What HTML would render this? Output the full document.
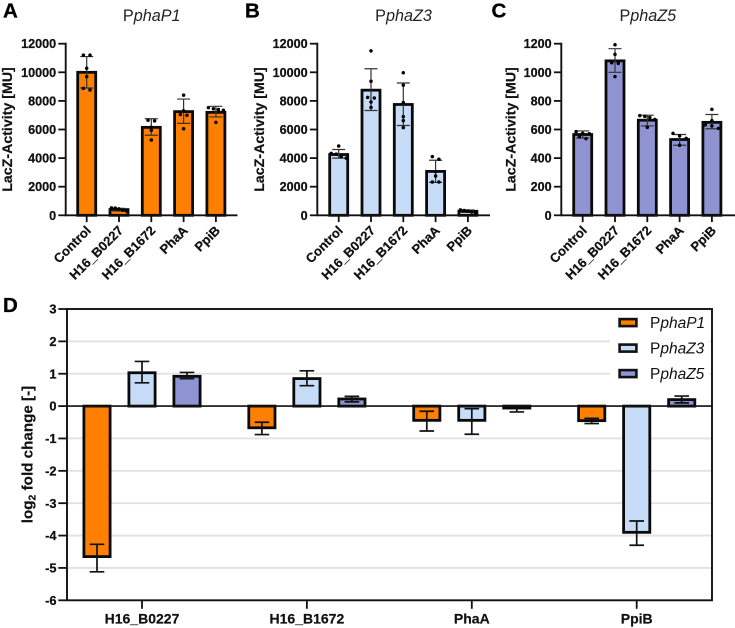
<!DOCTYPE html>
<html lang="en">
<head>
<meta charset="utf-8">
<title>LacZ activity charts</title>
<style>
html,body{margin:0;padding:0;background:#fff;}
svg{display:block;font-family:"Liberation Sans",sans-serif;}
</style>
</head>
<body>
<svg id="chart" xmlns="http://www.w3.org/2000/svg" width="735" height="628" viewBox="0 0 735 628">
  <text x="3" y="17.5" font-size="20.5" font-weight="bold" fill="#000" stroke="#000" stroke-width="0.3">A</text>
  <text x="245" y="17.5" font-size="20.5" font-weight="bold" fill="#000" stroke="#000" stroke-width="0.3">B</text>
  <text x="491.5" y="17.5" font-size="20.5" font-weight="bold" fill="#000" stroke="#000" stroke-width="0.3">C</text>
  <text x="3" y="312" font-size="20.5" font-weight="bold" fill="#000" stroke="#000" stroke-width="0.3">D</text>
  <text x="151.7" y="21" font-size="16.2" text-anchor="middle" fill="#222">P<tspan font-style="italic">phaP1</tspan></text>
  <text x="403.5" y="21" font-size="16.2" text-anchor="middle" fill="#222">P<tspan font-style="italic">phaZ3</tspan></text>
  <text x="647.8" y="21" font-size="16.2" text-anchor="middle" fill="#222">P<tspan font-style="italic">phaZ5</tspan></text>
  <text transform="translate(12,129.5) rotate(-90)" font-size="14.2" font-weight="bold" text-anchor="middle" fill="#111" stroke="#111" stroke-width="0.2">LacZ-Activity [MU]</text>
  <text transform="translate(264,129.5) rotate(-90)" font-size="14.2" font-weight="bold" text-anchor="middle" fill="#111" stroke="#111" stroke-width="0.2">LacZ-Activity [MU]</text>
  <text transform="translate(515.5,129.5) rotate(-90)" font-size="14.2" font-weight="bold" text-anchor="middle" fill="#111" stroke="#111" stroke-width="0.2">LacZ-Activity [MU]</text>
  <text transform="translate(32.5,454.5) rotate(-90)" font-size="15.2" font-weight="bold" text-anchor="middle" fill="#111" stroke="#111" stroke-width="0.2">log<tspan font-size="10.5" dy="3">2</tspan><tspan dy="-3"> fold change [-]</tspan></text>
  <g id="panels"></g>
  <g id="panel-d"></g>
</svg>
<script>
// Panels A-C: shared categories
const categories = ['Control', 'H16_B0227', 'H16_B1672', 'PhaA', 'PpiB'];

// Panel A (PphaP1)
const ticksA = [0, 2000, 4000, 6000, 8000, 10000, 12000];
const meansA = [10000, 400, 6150, 7250, 7200];
const errLowA = [8900, 300, 5600, 6430, 6880];
const errHighA = [11100, 490, 6750, 8130, 7620];
const pointsA = [
  [11200, 11200, 10280, 9700, 8880, 8760],
  [520, 500, 450, 350, 300],
  [6650, 6600, 6150, 5950, 5270],
  [8400, 7300, 7050, 7000, 6050],
  [7530, 7450, 7400, 7350, 6500]
];

// Panel B (PphaZ3)
const ticksB = [0, 2000, 4000, 6000, 8000, 10000, 12000];
const meansB = [4250, 8750, 7750, 3070, 280];
const errLowB = [4000, 7330, 6280, 2300, 200];
const errHighB = [4600, 10250, 9250, 3850, 370];
const pointsB = [
  [4850, 4330, 4280, 4100, 4000],
  [11500, 9370, 8250, 8200, 7920, 7550],
  [9970, 9100, 7880, 6900, 6620, 6130],
  [4100, 3920, 3050, 2750, 2330, 2330],
  [380, 340, 300, 230, 180]
];

// Panel C (PphaZ5)
const ticksC = [0, 200, 400, 600, 800, 1000, 1200];
const meansC = [565, 1080, 665, 530, 650];
const errLowC = [540, 1000, 625, 490, 605];
const errHighC = [590, 1165, 700, 565, 705];
const pointsC = [
  [585, 573, 570, 550, 536],
  [1193, 1125, 1067, 1062, 970],
  [697, 692, 685, 670, 615],
  [573, 555, 538, 490],
  [741, 662, 632, 625, 608]
];

// Panel D (log2 fold change)
const groupsD = ['H16_B0227', 'H16_B1672', 'PhaA', 'PpiB'];
const seriesD = ['phaP1', 'phaZ3', 'phaZ5'];
const ticksD = [3, 2, 1, 0, -1, -2, -3, -4, -5, -6];
const valuesP1 = [-4.65, -0.67, -0.44, -0.45];
const errLowP1 = [-5.12, -0.88, -0.77, -0.54];
const errHighP1 = [-4.27, -0.5, -0.16, -0.38];
const valuesZ3 = [1.03, 0.85, -0.44, -3.9];
const errLowZ3 = [0.72, 0.63, -0.87, -4.3];
const errHighZ3 = [1.38, 1.09, -0.08, -3.55];
const valuesZ5 = [0.92, 0.22, -0.06, 0.2];
const errLowZ5 = [0.85, 0.13, -0.18, 0.1];
const errHighZ5 = [1.04, 0.3, 0, 0.31];

const SVGNS = 'http://www.w3.org/2000/svg';
const INK = '#111';
const ORANGE = '#ff8000';
const BLUE = '#c6dcf7';
const PURPLE = '#8f93d2';

function mk(parent, tag, attrs, text) {
  const node = document.createElementNS(SVGNS, tag);
  for (const k in attrs) node.setAttribute(k, attrs[k]);
  if (text !== undefined) node.textContent = text;
  parent.appendChild(node);
  return node;
}

function swarm(values, scale) {
  // groups points that would overlap vertically and spreads each group symmetrically,
  // keeping any group within the bar width
  const sorted = values.slice().sort((a, b) => b - a);
  const result = [];
  let group = [];
  const flush = () => {
    const gap = group.length > 1 ? Math.min(6.6, 15 / (group.length - 1)) : 0;
    group.forEach((v, i) => result.push({ v: v, dx: (i - (group.length - 1) / 2) * gap }));
    group = [];
  };
  sorted.forEach((v) => {
    if (group.length && scale(v) - scale(group[group.length - 1]) > 2.8) flush();
    group.push(v);
  });
  flush();
  return result;
}

function drawBarPanel(cfg) {
  const root = document.getElementById('panels');
  const g = mk(root, 'g', {});
  
  

  const top = 43.7, base = 215.3;
  const maxTick = cfg.ticks[cfg.ticks.length - 1];
  const yScale = (v) => base - (v / maxTick) * (base - top);
  const xScale = (i) => cfg.x0 + i * 32.3;

  cfg.means.forEach((m, i) => {
    const cx = xScale(i);
    const bar = mk(g, 'rect', {
      x: cx - 9, y: yScale(m), width: 18, height: base - yScale(m),
      fill: cfg.color, stroke: '#0a0a0a', 'stroke-width': 2.8
    });
    
    

    const err = mk(g, 'path', {
      d: 'M' + cx + ' ' + yScale(cfg.low[i]) + 'V' + yScale(cfg.high[i]) +
         'M' + (cx - 6.5) + ' ' + yScale(cfg.low[i]) + 'h13' +
         'M' + (cx - 6.5) + ' ' + yScale(cfg.high[i]) + 'h13',
      fill: 'none', stroke: '#333', 'stroke-width': 1.2
    });
    
    

    swarm(cfg.points[i], yScale).forEach((p) => {
      const dot = mk(g, 'circle', { cx: cx + p.dx, cy: yScale(p.v), r: 1.75, fill: '#000' });
      
      
    });
  });

  const yAxis = mk(g, 'line', { x1: cfg.axisX, x2: cfg.axisX, y1: top - 1, y2: base + 1, stroke: INK, 'stroke-width': 1.9 });
  
  
  const xAxis = mk(g, 'line', { x1: cfg.axisX, x2: cfg.axisEnd, y1: base, y2: base, stroke: INK, 'stroke-width': 1.9 });
  
  

  cfg.ticks.forEach((t) => {
    const y = yScale(t);
    const tick = mk(g, 'line', { x1: cfg.axisX - 7.4, x2: cfg.axisX, y1: y, y2: y, stroke: INK, 'stroke-width': 1.8 });
    
    
    const label = mk(g, 'text', {
      x: cfg.axisX - 9.6, y: y + 4.5, 'font-size': 12.6, 'font-weight': 'bold', 'text-anchor': 'end', fill: INK, stroke: INK, 'stroke-width': 0.25
    }, String(t));
    
    
  });

  categories.forEach((c, i) => {
    const cx = xScale(i);
    const tick = mk(g, 'line', { x1: cx, x2: cx, y1: base, y2: base + 6.8, stroke: INK, 'stroke-width': 1.8 });
    
    
    const label = mk(g, 'text', {
      transform: 'translate(' + (cx + 5) + ',' + (base + 16) + ') rotate(-45)',
      'font-size': 13, 'font-weight': 'bold', 'text-anchor': 'end', fill: INK, stroke: INK, 'stroke-width': 0.25
    }, c);
    
    
  });
}

drawBarPanel({ id: 'a', ticks: ticksA, means: meansA, low: errLowA, high: errHighA, points: pointsA, color: ORANGE, x0: 86.7, axisX: 65.7, axisEnd: 237.5 });
drawBarPanel({ id: 'b', ticks: ticksB, means: meansB, low: errLowB, high: errHighB, points: pointsB, color: BLUE, x0: 338.7, axisX: 317.3, axisEnd: 490 });
drawBarPanel({ id: 'c', ticks: ticksC, means: meansC, low: errLowC, high: errHighC, points: pointsC, color: PURPLE, x0: 582.7, axisX: 561.3, axisEnd: 735 });

function drawFoldPanel() {
  const g = document.getElementById('panel-d');
  const left = 67, right = 712, top = 309, bottom = 600.3;
  const yScale = (v) => top + ((3 - v) / 9) * (bottom - top);
  const xGroup = (i) => 142 + i * 164.9;
  const offset = (s) => (s - 1) * 45;
  const colors = [ORANGE, BLUE, PURPLE];
  const seriesValues = [valuesP1, valuesZ3, valuesZ5];
  const seriesLow = [errLowP1, errLowZ3, errLowZ5];
  const seriesHigh = [errHighP1, errHighZ3, errHighZ5];

  ticksD.forEach((t) => {
    if (t === 3 || t === 0 || t === -6) return;
    const grid = mk(g, 'line', { x1: left, x2: right, y1: yScale(t), y2: yScale(t), stroke: '#e2e2e2', 'stroke-width': 1.9 });
    
    
  });

  const legendBg = mk(g, 'rect', { x: 610, y: 311, width: 99.5, height: 75, fill: '#fff' });
  
  

  seriesD.forEach((name, s) => {
    groupsD.forEach((grp, i) => {
      const cx = xGroup(i) + offset(s);
      const v = seriesValues[s][i];
      const y0 = yScale(0), y1 = yScale(v);
      const bar = mk(g, 'rect', {
        x: cx - 13.1, y: Math.min(y0, y1), width: 26.2, height: Math.abs(y1 - y0),
        fill: colors[s], stroke: '#0a0a0a', 'stroke-width': 2.8
      });
      
      
      const lo = yScale(seriesLow[s][i]), hi = yScale(seriesHigh[s][i]);
      const err = mk(g, 'path', {
        d: 'M' + cx + ' ' + lo + 'V' + hi + 'M' + (cx - 7.3) + ' ' + lo + 'h14.6M' + (cx - 7.3) + ' ' + hi + 'h14.6',
        fill: 'none', stroke: INK, 'stroke-width': 1.7
      });
      
      
    });
  });

  const zero = mk(g, 'line', { x1: left, x2: right, y1: yScale(0), y2: yScale(0), stroke: INK, 'stroke-width': 1.6 });
  
  

  const frame = mk(g, 'rect', { x: left, y: top, width: right - left, height: bottom - top, fill: 'none', stroke: INK, 'stroke-width': 1.9 });
  
  

  ticksD.forEach((t) => {
    const y = yScale(t);
    const tick = mk(g, 'line', { x1: left - 8.7, x2: left, y1: y, y2: y, stroke: INK, 'stroke-width': 1.8 });
    
    
    const label = mk(g, 'text', { x: left - 10.5, y: y + 4.6, 'font-size': 12.8, 'font-weight': 'bold', 'text-anchor': 'end', fill: INK, stroke: INK, 'stroke-width': 0.25 }, String(t));
    
    
  });

  groupsD.forEach((grp, i) => {
    const cx = xGroup(i);
    const tick = mk(g, 'line', { x1: cx, x2: cx, y1: bottom, y2: bottom + 8.5, stroke: INK, 'stroke-width': 1.8 });
    
    
    const label = mk(g, 'text', { x: cx, y: bottom + 23, 'font-size': 14, 'font-weight': 'bold', 'text-anchor': 'middle', fill: INK, stroke: INK, 'stroke-width': 0.2 }, grp);
    
    
  });

  seriesD.forEach((name, s) => {
    const cy = 322.6 + s * 25.5;
    const swatch = mk(g, 'rect', { x: 619.6, y: cy - 3.5, width: 16.8, height: 7, fill: colors[s], stroke: INK, 'stroke-width': 2.6 });
    
    
    const label = mk(g, 'text', { x: 650, y: cy + 5.3, 'font-size': 15.5, fill: '#111' }, 'P');
    
    
    mk(label, 'tspan', { 'font-style': 'italic' }, name);
  });
}

drawFoldPanel();
</script>
</body>
</html>
